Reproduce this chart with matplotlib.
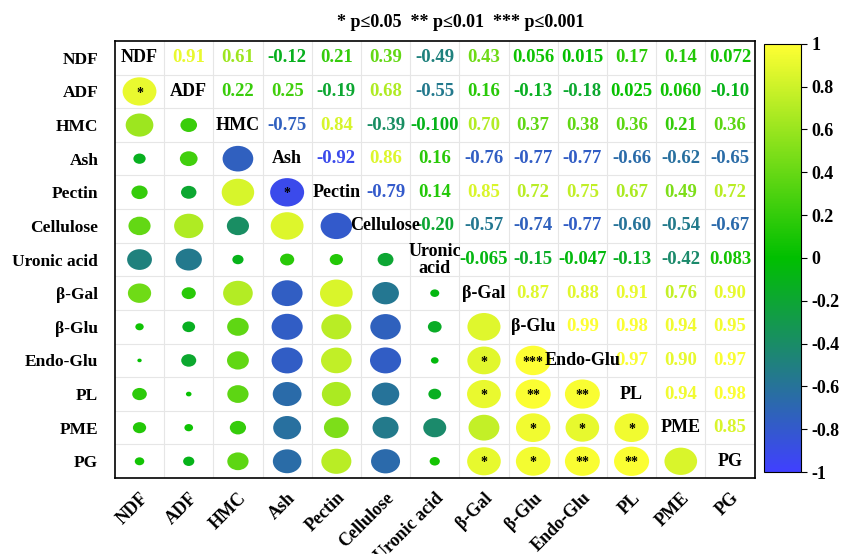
import matplotlib
matplotlib.use("Agg")
import matplotlib.pyplot as plt
import numpy as np
from matplotlib.patches import Ellipse
from matplotlib.colors import LinearSegmentedColormap, Normalize
from matplotlib.colorbar import ColorbarBase

plt.rcParams['font.family'] = ['Liberation Serif', 'DejaVu Serif']
plt.rcParams['font.weight'] = 'bold'

names = ['NDF', 'ADF', 'HMC', 'Ash', 'Pectin', 'Cellulose', 'Uronic acid',
         'β-Gal', 'β-Glu', 'Endo-Glu', 'PL', 'PME', 'PG']
diag_names = ['NDF', 'ADF', 'HMC', 'Ash', 'Pectin', 'Cellulose', 'Uronic\nacid',
              'β-Gal', 'β-Glu', 'Endo-Glu', 'PL', 'PME', 'PG']

# upper triangle of the correlation matrix, row by row (as printed)
upper = [
    ['0.91', '0.61', '-0.12', '0.21', '0.39', '-0.49', '0.43', '0.056', '0.015', '0.17', '0.14', '0.072'],
    ['0.22', '0.25', '-0.19', '0.68', '-0.55', '0.16', '-0.13', '-0.18', '0.025', '0.060', '-0.10'],
    ['-0.75', '0.84', '-0.39', '-0.100', '0.70', '0.37', '0.38', '0.36', '0.21', '0.36'],
    ['-0.92', '0.86', '0.16', '-0.76', '-0.77', '-0.77', '-0.66', '-0.62', '-0.65'],
    ['-0.79', '0.14', '0.85', '0.72', '0.75', '0.67', '0.49', '0.72'],
    ['-0.20', '-0.57', '-0.74', '-0.77', '-0.60', '-0.54', '-0.67'],
    ['-0.065', '-0.15', '-0.047', '-0.13', '-0.42', '0.083'],
    ['0.87', '0.88', '0.91', '0.76', '0.90'],
    ['0.99', '0.98', '0.94', '0.95'],
    ['0.97', '0.90', '0.97'],
    ['0.94', '0.98'],
    ['0.85'],
]

# significance marks for the lower triangle: (row, col, stars)
stars = [(1, 0, '*'), (4, 3, '*'),
         (9, 7, '*'), (9, 8, '***'),
         (10, 7, '*'), (10, 8, '**'), (10, 9, '**'),
         (11, 8, '*'), (11, 9, '*'), (11, 10, '*'),
         (12, 7, '*'), (12, 8, '*'), (12, 9, '**'), (12, 10, '**')]

n = len(names)
r = np.eye(n)
for i, row in enumerate(upper):
    for k, s in enumerate(row):
        j = i + 1 + k
        r[i, j] = r[j, i] = float(s)

cmap = LinearSegmentedColormap.from_list('bgy', ['#4040FF', '#00BF00', '#FFFF33'], N=256)
norm = Normalize(-1, 1)

fig = plt.figure(figsize=(8.45, 5.54), dpi=100)
ax = fig.add_axes([0.136, 0.137, 0.757, 0.789])
ax.set_xlim(0, n)
ax.set_ylim(n, 0)

# light grid between cells
for k in range(1, n):
    ax.axhline(k, color='#e6e6e6', lw=0.8, zorder=0)
    ax.axvline(k, color='#e6e6e6', lw=0.8, zorder=0)

for i in range(n):
    for j in range(n):
        x, y = j + 0.5, i + 0.5
        v = r[i, j]
        if i == j:
            ax.text(x, y, diag_names[i], ha='center', va='center', fontsize=13,
                    fontweight='bold', color='black', linespacing=1.0, zorder=3)
        elif j > i:
            ax.text(x, y, upper[i][j - i - 1], ha='center', va='center', fontsize=13.5,
                    fontweight='bold', color=cmap(norm(v)), zorder=2)
        else:
            s = np.sqrt(abs(v))
            ax.add_patch(Ellipse((x, y), 0.72 * s, 0.88 * s, facecolor=cmap(norm(v)),
                                 edgecolor='none', zorder=1))

for i, j, st in stars:
    ax.text(j + 0.5, i + 0.55, st, ha='center', va='center', fontsize=10,
            color='black', zorder=4)

ax.set_xticks(np.arange(n) + 0.5)
ax.set_yticks(np.arange(n) + 0.5)
ax.set_xticklabels(names, rotation=45, ha='right', rotation_mode='anchor',
                   fontsize=13, fontweight='bold')
ax.set_yticklabels(names, fontsize=12.5, fontweight='bold')
ax.tick_params(axis='y', length=0, pad=12)
ax.tick_params(axis='x', length=0, pad=8)
for sp in ax.spines.values():
    sp.set_linewidth(1.2)

fig.text(0.545, 0.96, '* p≤0.05  ** p≤0.01  *** p≤0.001', ha='center', va='center',
         fontsize=13, fontweight='bold')

cax = fig.add_axes([0.904, 0.148, 0.044, 0.773])
cb = ColorbarBase(cax, cmap=cmap, norm=norm, ticks=np.linspace(-1, 1, 11))
cb.ax.set_yticklabels(['-1', '-0.8', '-0.6', '-0.4', '-0.2', '0', '0.2', '0.4', '0.6', '0.8', '1'],
                      fontsize=13, fontweight='bold')
cb.ax.tick_params(length=4, width=0.8)
cb.outline.set_linewidth(0.8)

fig.savefig('out.png', dpi=100)
